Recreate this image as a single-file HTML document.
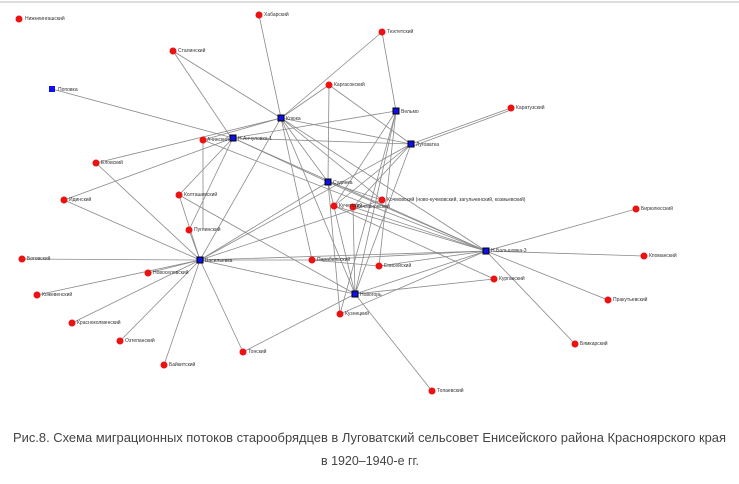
<!DOCTYPE html>
<html><head><meta charset="utf-8"><style>
html,body{margin:0;padding:0;background:#fff;width:739px;height:484px;overflow:hidden}
svg{display:block}
.e{stroke:#8a8a8a;stroke-width:0.8;fill:none}
.l{font-family:"Liberation Sans",sans-serif;font-size:5px;fill:#333}
.c{font-family:"Liberation Sans Narrow","Liberation Sans",sans-serif;font-size:12.5px;fill:#444}
</style></head><body>
<svg width="739" height="484" viewBox="0 0 739 484" xmlns="http://www.w3.org/2000/svg">
<line x1="0" y1="2" x2="739" y2="2" stroke="#ddd" stroke-width="2"/>
<g class="e">
<line x1="259" y1="15" x2="281" y2="118"/>
<line x1="173" y1="51" x2="281" y2="118"/>
<line x1="173" y1="51" x2="230" y2="136"/>
<line x1="382" y1="32" x2="396" y2="111"/>
<line x1="382" y1="32" x2="281" y2="118"/>
<line x1="329" y1="85" x2="328" y2="182"/>
<line x1="329" y1="85" x2="411" y2="144"/>
<line x1="329" y1="85" x2="281" y2="118"/>
<line x1="52" y1="89" x2="233" y2="138"/>
<line x1="511" y1="108" x2="411" y2="144"/>
<line x1="511" y1="110" x2="413" y2="146"/>
<line x1="96" y1="163" x2="200" y2="260"/>
<line x1="96" y1="163" x2="281" y2="118"/>
<line x1="64" y1="200" x2="200" y2="260"/>
<line x1="64" y1="200" x2="233" y2="138"/>
<line x1="22" y1="259" x2="200" y2="260"/>
<line x1="148" y1="273" x2="200" y2="260"/>
<line x1="37" y1="295" x2="200" y2="260"/>
<line x1="72" y1="323" x2="200" y2="260"/>
<line x1="120" y1="341" x2="200" y2="260"/>
<line x1="164" y1="365" x2="200" y2="260"/>
<line x1="243" y1="352" x2="200" y2="260"/>
<line x1="179" y1="195" x2="200" y2="260"/>
<line x1="179" y1="195" x2="233" y2="138"/>
<line x1="179" y1="195" x2="355" y2="294"/>
<line x1="189" y1="230" x2="200" y2="260"/>
<line x1="189" y1="230" x2="233" y2="138"/>
<line x1="203" y1="140" x2="203" y2="230"/>
<line x1="203" y1="140" x2="281" y2="118"/>
<line x1="203" y1="140" x2="486" y2="251"/>
<line x1="200" y1="260" x2="312" y2="260"/>
<line x1="200" y1="260" x2="486" y2="251"/>
<line x1="200" y1="260" x2="328" y2="182"/>
<line x1="200" y1="260" x2="281" y2="118"/>
<line x1="200" y1="260" x2="355" y2="294"/>
<line x1="200" y1="260" x2="411" y2="144"/>
<line x1="233" y1="138" x2="411" y2="144"/>
<line x1="233" y1="138" x2="396" y2="111"/>
<line x1="233" y1="138" x2="486" y2="251"/>
<line x1="233" y1="138" x2="328" y2="182"/>
<line x1="281" y1="118" x2="355" y2="294"/>
<line x1="281" y1="118" x2="486" y2="251"/>
<line x1="281" y1="118" x2="328" y2="182"/>
<line x1="281" y1="118" x2="312" y2="260"/>
<line x1="328" y1="182" x2="486" y2="251"/>
<line x1="328" y1="182" x2="355" y2="294"/>
<line x1="328" y1="182" x2="340" y2="314"/>
<line x1="636" y1="209" x2="486" y2="251"/>
<line x1="644" y1="256" x2="486" y2="251"/>
<line x1="608" y1="300" x2="486" y2="251"/>
<line x1="575" y1="344" x2="486" y2="251"/>
<line x1="494" y1="279" x2="355" y2="294"/>
<line x1="494" y1="279" x2="334" y2="206"/>
<line x1="432" y1="391" x2="355" y2="294"/>
<line x1="340" y1="314" x2="486" y2="251"/>
<line x1="379" y1="266" x2="486" y2="251"/>
<line x1="379" y1="266" x2="396" y2="111"/>
<line x1="379" y1="266" x2="312" y2="260"/>
<line x1="312" y1="260" x2="486" y2="251"/>
<line x1="243" y1="352" x2="355" y2="294"/>
<line x1="334" y1="206" x2="411" y2="144"/>
<line x1="334" y1="206" x2="396" y2="111"/>
<line x1="334" y1="206" x2="486" y2="251"/>
<line x1="353" y1="207" x2="411" y2="144"/>
<line x1="353" y1="207" x2="355" y2="294"/>
<line x1="353" y1="207" x2="486" y2="251"/>
<line x1="382" y1="200" x2="328" y2="182"/>
<line x1="382" y1="200" x2="281" y2="118"/>
<line x1="355" y1="294" x2="411" y2="144"/>
<line x1="355" y1="294" x2="396" y2="111"/>
<line x1="340" y1="314" x2="396" y2="111"/>
<line x1="200" y1="260" x2="382" y2="200"/>
<line x1="355" y1="294" x2="486" y2="251"/>
<line x1="281" y1="118" x2="411" y2="144"/>
</g>
<g fill="#ee1111">
<circle cx="19" cy="19" r="3.5"/><circle cx="259" cy="15" r="3.5"/><circle cx="173" cy="51" r="3.5"/>
<circle cx="382" cy="32" r="3.5"/><circle cx="329" cy="85" r="3.5"/><circle cx="511" cy="108" r="3.5"/>
<circle cx="203" cy="140" r="3.5"/><circle cx="96" cy="163" r="3.5"/><circle cx="64" cy="200" r="3.5"/>
<circle cx="179" cy="195" r="3.5"/><circle cx="189" cy="230" r="3.5"/><circle cx="22" cy="259" r="3.5"/>
<circle cx="148" cy="273" r="3.5"/><circle cx="37" cy="295" r="3.5"/><circle cx="72" cy="323" r="3.5"/>
<circle cx="120" cy="341" r="3.5"/><circle cx="164" cy="365" r="3.5"/><circle cx="243" cy="352" r="3.5"/>
<circle cx="312" cy="260" r="3.5"/><circle cx="379" cy="266" r="3.5"/><circle cx="340" cy="314" r="3.5"/>
<circle cx="494" cy="279" r="3.5"/><circle cx="432" cy="391" r="3.5"/><circle cx="636" cy="209" r="3.5"/>
<circle cx="644" cy="256" r="3.5"/><circle cx="608" cy="300" r="3.5"/><circle cx="575" cy="344" r="3.5"/>
<circle cx="334" cy="206" r="3.5"/><circle cx="353" cy="207" r="3.5"/><circle cx="382" cy="200" r="3.5"/>
</g>
<g fill="#1010ee" stroke="#000" stroke-width="1">
<rect x="49" y="86" width="6" height="6" stroke="none"/>
<rect x="230" y="135" width="6" height="6"/><rect x="278" y="115" width="6" height="6"/>
<rect x="393" y="108" width="6" height="6"/><rect x="408" y="141" width="6" height="6"/>
<rect x="325" y="179" width="6" height="6"/><rect x="197" y="257" width="6" height="6"/>
<rect x="483" y="248" width="6" height="6"/><rect x="352" y="291" width="6" height="6"/>
</g>
<g class="l">
<text x="25" y="20">Нижнеингашский</text><text x="264" y="16">Хабарский</text><text x="178" y="52">Сталинский</text>
<text x="387" y="33">Тюхтетский</text><text x="334" y="86">Каргасокский</text><text x="516" y="109">Каратузский</text>
<text x="58" y="91">Поповка</text><text x="207" y="141">Ачинский</text><text x="238" y="140">Н.Анчуловка-1</text>
<text x="286" y="120">Клюка</text><text x="401" y="113">Вельмо</text><text x="416" y="146">Луговатка</text>
<text x="333" y="184">Судинка</text><text x="101" y="164">Еловский</text><text x="69" y="201">Идинский</text>
<text x="184" y="196">Колташевский</text><text x="194" y="231">Пуглинский</text><text x="27" y="260">Боговский</text>
<text x="205" y="262">Васильевка</text><text x="153" y="274">Новоселовский</text><text x="42" y="296">Кожевенский</text>
<text x="77" y="324">Красноколменский</text><text x="125" y="342">Озтепанский</text><text x="169" y="366">Байкитский</text>
<text x="248" y="353">Тонский</text><text x="317" y="261">Парабельский</text><text x="384" y="267">Енисейский</text>
<text x="345" y="315">Кузнецкий</text><text x="360" y="296">Новогорь</text><text x="499" y="280">Курганский</text>
<text x="437" y="392">Топаевский</text><text x="641" y="210">Бирюлюсский</text><text x="649" y="257">Кпоманский</text>
<text x="613" y="301">Пракутьевский</text><text x="580" y="345">Бямкарский</text><text x="491" y="252">Н.Бальшовка-3</text>
<text x="339" y="207">Кучетский</text><text x="357" y="208">Кочмановский</text>
<text x="387" y="201">Кочмовский (ново-кучмовский, загульчинский, козмьевский)</text>
</g>
<text class="c" x="13" y="442" textLength="713" lengthAdjust="spacingAndGlyphs">Рис.8. Схема миграционных потоков старообрядцев в Луговатский сельсовет Енисейского района Красноярского края</text>
<text class="c" x="321" y="465" textLength="98" lengthAdjust="spacingAndGlyphs">в 1920–1940-е гг.</text>
</svg>
</body></html>
